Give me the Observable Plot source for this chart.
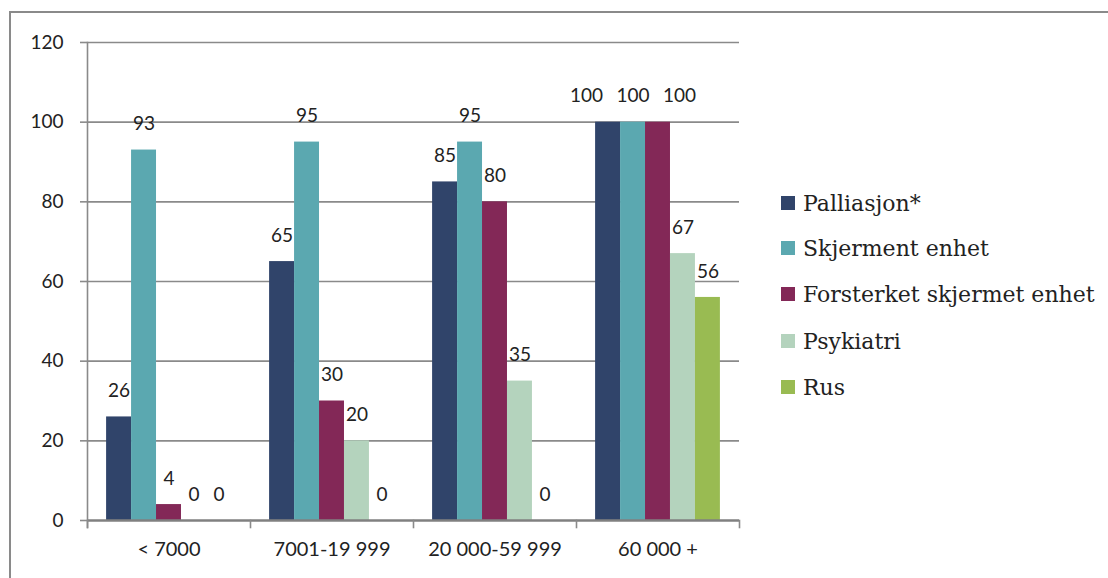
<!DOCTYPE html>
<html>
<head>
<meta charset="utf-8">
<script src="https://cdn.jsdelivr.net/npm/d3@7"></script>
<script src="https://cdn.jsdelivr.net/npm/@observablehq/plot@0.6"></script>
<style>
  html, body { margin: 0; padding: 0; background: #fff; overflow: hidden; width: 1108px; height: 578px; }
  #wrap { position: relative; width: 1108px; height: 578px; }
  #border { position: absolute; left: 9px; top: 11px; width: 1200px; height: 700px; border: 2px solid #8a8a8a; box-sizing: border-box; }
  #chart { position: absolute; left: 0; top: 0; }
  #legend { position: absolute; left: 781px; top: 0; font-family: "DejaVu Serif", serif; font-size: 22px; color: #222; }
  .item { position: absolute; left: 0; white-space: nowrap; display: flex; align-items: center; height: 30px; }
  .sw { width: 14px; height: 14px; margin-right: 8px; }
</style>
</head>
<body>
<div id="wrap">
  <div id="border"></div>
  <div id="chart"></div>
  <div id="legend"></div>
</div>
<script>
const categories = ["< 7000", "7001-19 999", "20 000-59 999", "60 000 +"];
const series = ["Palliasjon*", "Skjerment enhet", "Forsterket skjermet enhet", "Psykiatri", "Rus"];
const colors = ["#30446a", "#5ba8b0", "#832857", "#b4d3bd", "#99bb52"];
const palliasjon = [26, 65, 85, 100];
const skjerment = [93, 95, 95, 100];
const forsterket = [4, 30, 80, 100];
const psykiatri = [0, 20, 35, 67];
const rus = [0, 0, 0, 56];
const yTicks = [0, 20, 40, 60, 80, 100, 120];

const seriesValues = [palliasjon, skjerment, forsterket, psykiatri, rus];
const data = [];
categories.forEach((c, i) => {
  series.forEach((s, j) => data.push({category: c, series: s, value: seriesValues[j][i], j}));
});

// Spread labels that sit at the same height and would collide (like the original's label layout)
const barStep = 25, charW = 11.5, gap = 12;
categories.forEach(c => {
  const rows = data.filter(d => d.category === c);
  let k = 0;
  while (k < rows.length) {
    let e = k;
    while (e + 1 < rows.length && rows[e + 1].value === rows[k].value) e++;
    const n = e - k + 1;
    const need = Math.max(...rows.slice(k, e + 1).map(d => String(d.value).length)) * charW + gap;
    for (let m = k; m <= e; m++) {
      const idx = m - k - (n - 1) / 2;
      rows[m].dx = (n > 1 && need > barStep) ? idx * (need - barStep) : 0;
    }
    k = e + 1;
  }
});

const chart = Plot.plot({
  width: 1108,
  height: 578,
  marginLeft: 86,
  marginRight: 369,
  marginTop: 42,
  marginBottom: 58,
  style: {fontFamily: "Lato, sans-serif", fontSize: "19px", color: "#222", background: "transparent"},
  fx: {domain: categories, padding: 0, label: null},
  x: {domain: series, paddingInner: 0, paddingOuter: 0.765, round: false, axis: null},
  y: {domain: [0, 120], label: null},
  color: {domain: series, range: colors},
  marks: [
    Plot.ruleY(yTicks.filter(d => d > 0), {y: d => d, stroke: "#8a8a8a", strokeWidth: 1.6}),
    Plot.barY(data, {fx: "category", x: "series", y: "value", fill: "series", inset: 0}),
    Plot.ruleY([0], {stroke: "#808080", strokeWidth: 2.6}),
    Plot.frame({anchor: "left", facetAnchor: "left", stroke: "#8a8a8a", strokeWidth: 1.6, insetBottom: -7}),
    Plot.frame({anchor: "left", insetTop: 478, insetBottom: -7, stroke: "#8a8a8a", strokeWidth: 1.6}),
    Plot.frame({anchor: "right", facetAnchor: "right", insetTop: 478, insetBottom: -7, stroke: "#8a8a8a", strokeWidth: 1.6}),
    ...[...new Set(data.map(d => d.dx))].map(off =>
      Plot.text(data.filter(d => d.dx === off), {fx: "category", x: "series", y: "value", text: d => String(d.value), dx: off, dy: -26, fontSize: 19, fill: "#222"})
    ),
    Plot.axisY({ticks: yTicks, tickSize: 7, tickPadding: 17, stroke: "#8a8a8a", strokeWidth: 1.6, fill: "#222", fontSize: 19, label: null, tickFormat: d => String(d)}),
    Plot.axisFx({anchor: "bottom", tickSize: 0, tickPadding: 21, fill: "#222", fontSize: 20, label: null})
  ]
});
document.getElementById("chart").appendChild(chart);

const legend = document.getElementById("legend");
const rowCenters = [203, 248, 294, 341, 387];
series.forEach((s, i) => {
  const item = document.createElement("div");
  item.className = "item";
  item.style.top = (rowCenters[i] - 15) + "px";
  const sw = document.createElement("span");
  sw.className = "sw";
  sw.style.background = colors[i];
  const t = document.createElement("span");
  t.textContent = s;
  item.appendChild(sw);
  item.appendChild(t);
  legend.appendChild(item);
});
</script>
</body>
</html>
